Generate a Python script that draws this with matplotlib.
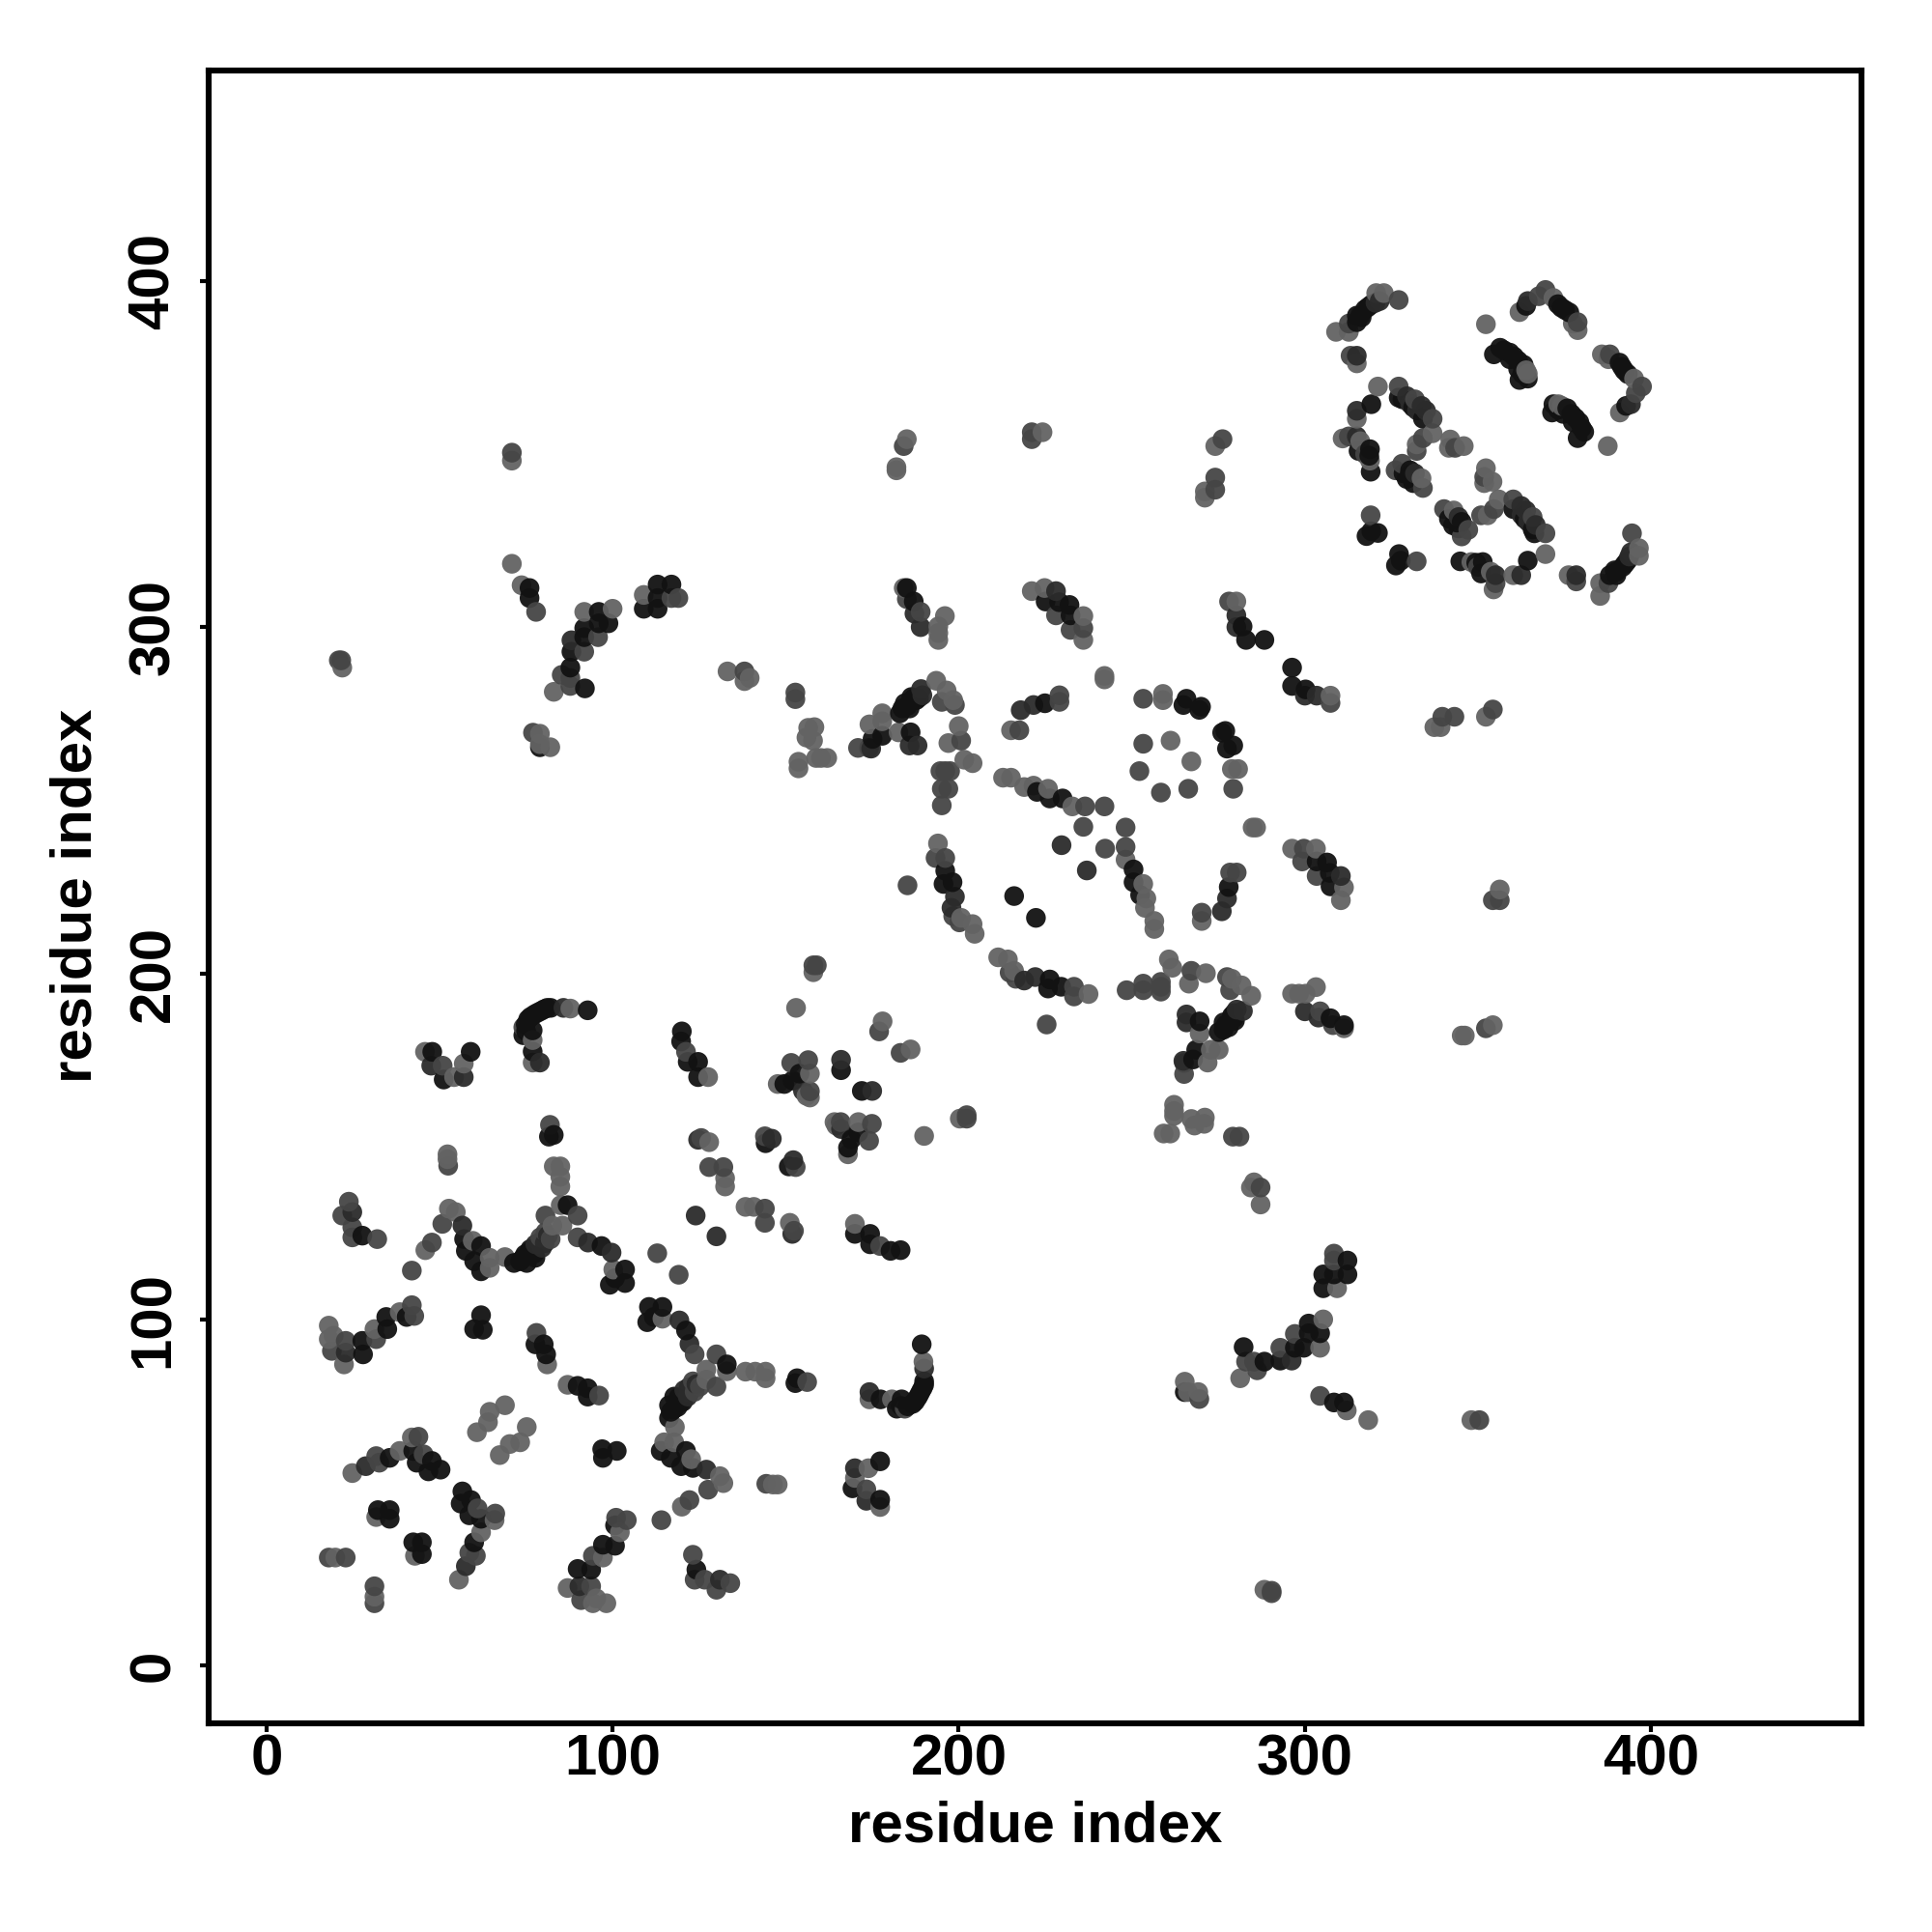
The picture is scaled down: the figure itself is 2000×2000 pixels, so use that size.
import numpy as np
import matplotlib
matplotlib.use("Agg")
import matplotlib.pyplot as plt

plt.rcParams['font.family'] = ['Liberation Sans', 'DejaVu Sans']

# Contacts (residue i, residue j), one triangle of a symmetric map, grouped by grey level
light = [(45.9,120),(52.7,132),(54.7,131),(59.6,122.7),(64.5,117.8),(64.5,114.9),(68.9,118),(82.6,127.1),(85.5,127.1),(85,133),
 (100.2,114.4),(18,98.2),(18,94.3),(19.4,95.3),(22.4,87),(31.2,97.2),(38.5,102.1),(81.1,87),(24.8,55.6),(38.5,62),(42,65.9),
 (31.7,42.9),(19.9,31.2),(68.9,75.2),(64.5,73.3),(64,70.3),(60.8,67.4),(132.5,140.8),(132.5,138.4),(83,144.2),(84.9,144.2),
 (84.9,141.2),(84.9,138.4),(52.3,147.7),(52.3,146.3),(158,200.3),(153,190),(178,186.1),(127.6,170),(157,171),(147.7,168),
 (156,164.6),(157,164.1),(127.9,151.2),(193.5,284.5),(196.5,281.7),(198.4,278.9),(177.9,275.1),(177.9,272.8),(174.2,271.9),
 (182.6,269.6),(200,271.4),(197,266.5),(201.6,261.7),(204,260.7),(215.1,270.2),(212.8,256.5),(215.1,256.5),(218.9,253.8),
 (221.6,254.2),(225.8,253.3),(232.8,248.2),(194,237.5),(200.7,216),(204,214.2),(204.6,211.4),(259,280.7),(259,278.9),
 (261.2,267.2),(242.1,284.9),(242.1,285.9),(70.9,348.1),(70.9,318.3),(73.7,312.1),(91.8,304.4),(100,305.3),(109,309.3),
 (21.9,288.3),(83,281.3),(79,269.2),(79,266.2),(82,265.3),(133.2,287.2),(138.1,284.4),(139.6,285.3),(185,354.3),(182,346.2),
 (182,345.3),(224.2,356.3),(274.1,352.3),(271.1,339.2),(271.1,337.4),(184.1,311.3),(196,303.2),(194.1,300.2),(194.1,298.3),
 (194.1,296.3),(221.1,310.4),(224.8,311.3),(236,303.2),(236,296.3),(280.2,307.4),(158.3,271.1),(156.5,270.9),(156,268.1),
 (157.9,267.2),(160.2,262.2),(162,262.2),(158.8,262.2),(153.7,261.1),(153.7,259.2),(45.8,177.3),(54.2,170),(57,173.9),
 (87.8,189.8),(76.9,180.7),(76.9,174.2),(320.6,396.5),(322.8,396.5),(312.7,385.3),(309,385.3),(315,376.2),(321.1,369.5),
 (315,360.2),(310.9,354.5),(316,353.7),(318.8,348.1),(332.3,352.8),(336.9,356),(333.7,343),(352.3,387.5),(362,391),
 (371.8,395.1),(378.8,385.8),(377.4,387.7),(363.9,374.2),(364.4,373.2),(342,354.2),(341.6,351.8),(345.9,352.3)]

mid = [(23.8,134),(21.9,130),(24.8,126.6),(24.8,123.7),(32,123.2),(42,114.1),(47.8,122.2),(50.8,127.6),(79.1,123.7),(80.6,125.2),
 (82.1,123.2),(80.6,130),(89.9,130),(89.9,123.7),(112.9,119.1),(22.9,93.8),(18.9,90.9),(31.7,94.3),(42,104.1),(42.7,101),
 (78,96.1),(32.6,58.6),(31.7,60.5),(43.9,66.1),(45.4,61),(18,31.2),(22.9,31.2),(52.5,144.4),(127.9,144),(132,144),(158,202.3),
 (159,202.3),(177,183.2),(121.2,177.3),(151.6,174.1),(156.5,174.9),(157,165.9),(125.6,152.4),(144,152.9),(81.9,156.2),
 (198.9,277.5),(195.1,278.4),(200.7,267.2),(196.1,258.4),(197.5,258.4),(194.7,258.4),(197,253.3),(195.1,253.3),(195.1,248.5),
 (229.1,280.3),(229.1,278.4),(217.5,270.2),(236.5,248.2),(242.1,248.2),(236,242.3),(193.3,233.3),(196.1,233.3),(198.4,216.5),
 (200.2,214.7),(185.2,225.4),(253.3,279.3),(253.3,266.3),(252.2,258.4),(70.9,350.4),(77.9,304.4),(95.8,297.1),(91.8,292.9),
 (119,308.4),(117,308.4),(21.6,290.4),(20.9,290.4),(85.3,286.2),(87.8,285.3),(87.8,283),(138.1,287.2),(152.8,281.1),
 (152.8,279.2),(77,269.5),(184.1,352.3),(221.1,356.3),(221.1,354.3),(276.2,354.3),(274.1,343.2),(274.1,339.7),(185,308.1),
 (189,304.4),(236,299.7),(228.1,303.4),(232.3,299.2),(278.1,307.4),(170.9,265.1),(174.1,265.1),(50.9,173.3),(74.2,184.4),
 (327.1,394.5),(312.7,387.7),(313.2,378.4),(327.1,369.5),(331.8,365.8),(336.9,360.2),(312.7,355.1),(317.4,350),(332.3,350.9),
 (334.1,354.6),(343.4,351.8),(326.2,345.3),(328.1,347.2),(334.1,340.2),(319,332.3),(369.5,397.4),(367.6,395.6),(378.8,388.1)]

deep = [(24.8,131),(56.6,127.1),(77.7,121.7),(79.6,120.7),(92.9,122.2),(99.7,119.3),(28.7,57.6),(124,130),(22.9,90.4),(124.7,151.9),
 (146,152.2),(166,175),(155,166),(189.1,282.1),(185.8,265.8),(188.1,265.8),(174.7,264.9),(189.5,280.3),(217.9,276),(221.6,277.5),
 (229.7,237),(198.9,222.1),(197.9,218.9),(88.1,296.2),(187.2,303.9),(189,300),(228.1,310.4),(280.2,303.4),(280.2,300),
 (47.6,173.3),(57,170),(79,174.2),(85.8,190),(321.6,394.2),(315,362.5),(315,355.1),(329.5,366.7),(333.7,363.9),(335,362.5),
 (331.8,344.4),(364.4,394.2),(315,378.4),(78.9,122.3),(80.4,122),(81.3,124.2),(320.4,393.7),(330.4,364.5),(332.4,362.6)]

black = [(27.7,124.2),(57.1,123.2),(62,121.2),(57.6,119.8),(60,116.8),(62,113.9),(73.3,116.8),(74.7,118.8),(76.2,120.3),(75.2,116.3),
 (77.7,117.8),(87,133),(96.8,121.2),(103.6,114.4),(103.6,110.5),(99.2,110),(100.7,111.9),(27.7,93.8),(27.9,89.9),(34.6,100.7),
 (34.9,97.2),(40.5,100.7),(62,101.2),(60,97.2),(62.5,97),(77.7,92.8),(80.1,92.8),(80.8,89.9),(35.6,60),(42.4,62),(43.4,58.6),
 (47.8,59.1),(46.8,56.1),(50.3,56.6),(32.2,44.9),(35.6,44.9),(35.6,42.4),(120,183.2),(119.8,180.3),(121.7,174.4),(124.7,174.4),
 (124.7,170),(149.6,168),(152,169),(154,171),(166,172),(144.2,150.9),(186.3,279.8),(184.4,278),(183,275.1),(185.8,276.5),
 (187.7,278.9),(175.1,267.7),(177.9,268.6),(186.1,269.6),(222.6,252.4),(226.3,250.5),(230,250.5),(224.9,278),(265.8,279.3),
 (270,277),(269.5,276.1),(264.9,277.5),(196.1,229.6),(198.2,226.3),(195.6,225.8),(216,222.3),(76,311.3),(76,308.4),(96,304.4),
 (96,301.1),(98.8,301.1),(91.8,299.7),(91.8,297.1),(88.1,292.9),(109,305.3),(113,312.3),(113,308.4),(113,305.3),(117,312.3),
 (87.8,288.3),(92,282.3),(79,265.3),(185,311.3),(187,307.4),(225.1,307.4),(229,307.2),(232,306.4),(232.3,303.4),(282,300.2),
 (283,296.3),(288.3,296.3),(47.9,177.3),(51.2,169.3),(59,177.3),(92.8,189.3),(82.1,190),(79.3,189.1),(77.4,188.1),(75.6,186.7),
 (74.2,182.1),(76.9,183.5),(76.9,177.4),(81.1,190),(83,153.3),(81.6,152.8),(319.2,393.2),(317.4,391.8),(315,390),(315,388.1),
 (316.4,389.5),(327.1,366.3),(331.3,363.5),(334.1,360.2),(319.2,364.4),(315.5,350.9),(318.8,351.4),(319,344.9),(328.5,344.4),
 (330.4,345.3),(331.3,341.6),(319.2,327.7),(321.1,327.2),(317.8,326.3),(363.9,392.8),(374.1,392.3),(376.4,390.9),(356.4,380.7),
 (354.6,378.8),(359.2,379.3),(359.2,377.4),(361.6,377),(361.6,374.6),(364.4,371.8),(362,371.4),
 (74.9,185.2),(76.3,187.4),(78.3,188.6),(80.2,189.6),(75,183.3),(71.5,116.3),(74,117.6),(75.9,119.4),(77.4,119),
 (185.2,277.2),(186.9,279.4),(183.7,276.5),(188.5,279.6),(316,390),(318.3,392.5),(328.2,365.8),(318.6,349.5),(329.4,342.8),
 (330.2,343.9),(357.5,380),(360.4,378.2),(362.8,373.2),(363.2,375.8),(373.1,393.3),(375.2,391.6)]

grey_levels = {'light': 0.39, 'mid': 0.27, 'deep': 0.17, 'black': 0.07}
ticks = [0, 100, 200, 300, 400]
axis_label = "residue index"

groups = [(light, grey_levels['light']), (mid, grey_levels['mid']),
          (deep, grey_levels['deep']), (black, grey_levels['black'])]
i = np.concatenate([np.array(g, float)[:, 0] for g, _ in groups])
j = np.concatenate([np.array(g, float)[:, 1] for g, _ in groups])
s = np.concatenate([np.full(len(g), v) for g, v in groups])

# the map is symmetric: every contact (i, j) also appears as (j, i)
x = np.concatenate([i, j])
y = np.concatenate([j, i])
c = np.concatenate([s, s])
order = np.argsort(x + 0.37 * y, kind='stable')

fig = plt.figure(figsize=(10, 10), dpi=200, facecolor='white')
ax = fig.add_axes([216/2000, (2000-1784)/2000, (1927-216)/2000, (1784-73)/2000])
ax.scatter(x[order], y[order], s=54, c=[(v, v, v) for v in c[order]], linewidths=0, alpha=0.95, zorder=3)
ax.set_xlim(-16.7, 460.8)
ax.set_ylim(-16.7, 460.8)
ax.set_xticks(ticks)
ax.set_yticks(ticks)
for sp in ax.spines.values():
    sp.set_linewidth(2.2)
ax.tick_params(axis='both', length=3.4, width=1.5, labelsize=21.6)
ax.tick_params(axis='x', pad=0.5)
ax.tick_params(axis='y', pad=7)
for t in ax.get_xticklabels():
    t.set_fontweight('bold')
for t in ax.get_yticklabels():
    t.set_fontweight('bold')
    t.set_rotation(90)
    t.set_va('center')
fig.text(0.536, 0.0545, axis_label, fontsize=21.6, fontweight='bold', ha='center', va='center')
fig.text(0.0395, 0.5365, axis_label, fontsize=21.6, fontweight='bold', ha='center', va='center', rotation=90)
fig.savefig("out.png", dpi=200, facecolor='white')
